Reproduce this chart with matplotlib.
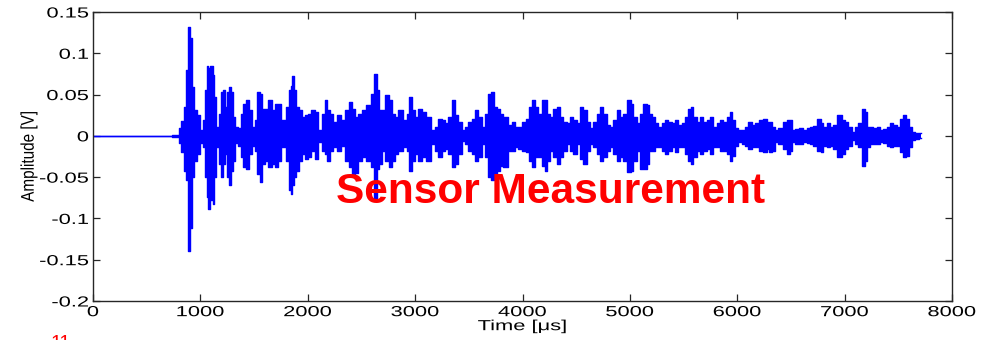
import matplotlib
matplotlib.use("Agg")
import matplotlib.pyplot as plt
from matplotlib.patheffects import AbstractPathEffect
from matplotlib.transforms import Affine2D

time_us = [0, 720, 745, 775, 800,
           810, 835, 857, 879, 894, 910, 928, 950, 981, 1012, 1028, 1052, 1068, 1083, 1105,
           1121, 1136, 1158, 1183, 1199, 1214, 1239, 1261, 1276, 1292, 1313, 1338, 1363, 1385,
           1406, 1437, 1469, 1493, 1518, 1540, 1562, 1586, 1617, 1649, 1679, 1711, 1735, 1772,
           1819, 1835, 1850, 1860, 1881, 1903, 1928, 1959, 1984, 2015, 2052, 2077, 2114, 2145,
           2170, 2192, 2223, 2254, 2294, 2332, 2369, 2394, 2425, 2450, 2487, 2518, 2565, 2605,
           2636, 2657, 2679, 2704, 2741, 2766, 2797, 2828, 2859, 2906, 2937, 2952, 2983, 3014,
           3045, 3077, 3123, 3170, 3201, 3232, 3263, 3294, 3325, 3356, 3387, 3418, 3449, 3480,
           3511, 3542, 3573, 3604, 3635, 3666, 3697, 3722, 3744, 3775, 3806, 3837, 3884, 3915,
           3946, 3977, 4008, 4055, 4070, 4101, 4132, 4163, 4194, 4219, 4241, 4272, 4303, 4334,
           4365, 4396, 4427, 4458, 4489, 4520, 4551, 4582, 4613, 4644, 4675, 4706, 4737, 4768,
           4799, 4830, 4861, 4892, 4923, 4954, 4995, 5017, 5048, 5079, 5110, 5141, 5172, 5188,
           5219, 5250, 5281, 5312, 5343, 5374, 5405, 5436, 5467, 5498, 5529, 5560, 5576, 5607,
           5638, 5669, 5700, 5731, 5762, 5793, 5824, 5855, 5886, 5917, 5942, 5964, 5995, 6026,
           6057, 6088, 6119, 6150, 6181, 6228, 6259, 6290, 6305, 6336, 6367, 6398, 6445, 6476,
           6498, 6523, 6554, 6600, 6631, 6662, 6693, 6724, 6765, 6786, 6817, 6848, 6879, 6910,
           6957, 6988, 7019, 7050, 7081, 7112, 7143, 7181, 7199, 7221, 7252, 7283, 7314, 7345,
           7376, 7407, 7438, 7469, 7500, 7531, 7562, 7584, 7609, 7640, 7671, 7708]

upper_v = [0, 0, 0.0015, 0.001, 0.0005,
           0.009, 0.018, 0.035, 0.080, 0.132, 0.118, 0.059, 0.031, 0.025, 0.007, 0.019, 0.055, 0.084, 0.082, 0.084,
           0.074, 0.047, 0.011, 0.027, 0.053, 0.055, 0.035, 0.053, 0.059, 0.053, 0.023, 0.011, 0.009, 0.027,
           0.039, 0.043, 0.031, 0.011, 0.019, 0.053, 0.051, 0.033, 0.033, 0.043, 0.031, 0.039, 0.039, 0.019,
           0.035, 0.055, 0.060, 0.072, 0.055, 0.035, 0.031, 0.023, 0.025, 0.027, 0.031, 0.029, 0.007, 0.027,
           0.043, 0.031, 0.027, 0.017, 0.025, 0.019, 0.031, 0.041, 0.033, 0.023, 0.027, 0.031, 0.037, 0.051,
           0.075, 0.055, 0.031, 0.031, 0.049, 0.043, 0.027, 0.023, 0.031, 0.019, 0.027, 0.047, 0.031, 0.023,
           0.033, 0.029, 0.023, 0.007, 0.011, 0.021, 0.019, 0.015, 0.023, 0.043, 0.025, 0.017, 0.007, 0.011,
           0.017, 0.021, 0.031, 0.023, 0.011, 0.027, 0.051, 0.053, 0.035, 0.033, 0.027, 0.023, 0.013, 0.017,
           0.011, 0.011, 0.017, 0.021, 0.035, 0.043, 0.035, 0.027, 0.043, 0.044, 0.027, 0.023, 0.033, 0.035,
           0.023, 0.017, 0.015, 0.023, 0.019, 0.015, 0.035, 0.031, 0.017, 0.009, 0.017, 0.027, 0.035, 0.027,
           0.013, 0.011, 0.019, 0.031, 0.023, 0.027, 0.043, 0.039, 0.023, 0.015, 0.027, 0.038, 0.037, 0.027,
           0.023, 0.015, 0.011, 0.015, 0.019, 0.017, 0.015, 0.019, 0.013, 0.015, 0.023, 0.033, 0.035, 0.023,
           0.017, 0.023, 0.017, 0.019, 0.023, 0.011, 0.015, 0.019, 0.017, 0.023, 0.029, 0.019, 0.009, 0.007,
           0.007, 0.011, 0.017, 0.013, 0.015, 0.019, 0.021, 0.017, 0.017, 0.011, 0.007, 0.009, 0.017, 0.019,
           0.019, 0.007, 0.008, 0.009, 0.007, 0.009, 0.011, 0.012, 0.020, 0.015, 0.011, 0.015, 0.011, 0.013,
           0.025, 0.019, 0.017, 0.011, 0.005, 0.011, 0.015, 0.032, 0.029, 0.011, 0.011, 0.009, 0.011, 0.007,
           0.008, 0.011, 0.015, 0.013, 0.011, 0.021, 0.025, 0.021, 0.011, 0.005, 0.004, 0.003]

lower_v = [0, 0, -0.0015, -0.001, -0.0005,
           -0.009, -0.020, -0.042, -0.054, -0.139, -0.111, -0.050, -0.030, -0.022, -0.009, -0.014, -0.050, -0.074, -0.088, -0.078,
           -0.082, -0.050, -0.014, -0.034, -0.050, -0.034, -0.022, -0.050, -0.060, -0.042, -0.030, -0.009, -0.012, -0.026,
           -0.038, -0.040, -0.022, -0.012, -0.018, -0.046, -0.056, -0.034, -0.030, -0.038, -0.034, -0.038, -0.030, -0.014,
           -0.030, -0.066, -0.070, -0.060, -0.050, -0.042, -0.030, -0.022, -0.028, -0.026, -0.018, -0.028, -0.007, -0.018,
           -0.022, -0.030, -0.018, -0.014, -0.018, -0.012, -0.030, -0.038, -0.046, -0.045, -0.030, -0.026, -0.030, -0.038,
           -0.075, -0.040, -0.034, -0.018, -0.030, -0.038, -0.030, -0.022, -0.018, -0.014, -0.018, -0.042, -0.030, -0.022,
           -0.030, -0.026, -0.030, -0.010, -0.018, -0.026, -0.018, -0.016, -0.022, -0.038, -0.034, -0.022, -0.006, -0.010,
           -0.018, -0.022, -0.030, -0.026, -0.010, -0.026, -0.050, -0.054, -0.046, -0.042, -0.036, -0.038, -0.018, -0.018,
           -0.014, -0.016, -0.018, -0.020, -0.030, -0.038, -0.026, -0.026, -0.036, -0.042, -0.030, -0.018, -0.026, -0.034,
           -0.026, -0.018, -0.010, -0.018, -0.022, -0.010, -0.028, -0.034, -0.018, -0.010, -0.014, -0.022, -0.030, -0.026,
           -0.018, -0.014, -0.022, -0.030, -0.026, -0.030, -0.044, -0.042, -0.030, -0.018, -0.040, -0.040, -0.034, -0.018,
           -0.018, -0.014, -0.014, -0.018, -0.022, -0.018, -0.014, -0.020, -0.014, -0.014, -0.022, -0.030, -0.034, -0.026,
           -0.018, -0.022, -0.018, -0.016, -0.022, -0.014, -0.014, -0.018, -0.018, -0.022, -0.030, -0.024, -0.012, -0.007,
           -0.010, -0.012, -0.016, -0.014, -0.014, -0.018, -0.020, -0.016, -0.020, -0.018, -0.007, -0.010, -0.016, -0.022,
           -0.018, -0.007, -0.010, -0.010, -0.007, -0.009, -0.010, -0.012, -0.018, -0.020, -0.012, -0.014, -0.012, -0.016,
           -0.026, -0.022, -0.016, -0.012, -0.005, -0.010, -0.014, -0.036, -0.030, -0.014, -0.010, -0.010, -0.010, -0.007,
           -0.009, -0.012, -0.014, -0.012, -0.012, -0.020, -0.026, -0.024, -0.014, -0.005, -0.004, -0.003]

x_ticks = [0, 1000, 2000, 3000, 4000, 5000, 6000, 7000, 8000]
y_ticks = [-0.2, -0.15, -0.1, -0.05, 0, 0.05, 0.1, 0.15]
y_tick_labels = ["-0.2", "-0.15", "-0.1", "-0.05", "0", "0.05", "0.1", "0.15"]


class Stretch(AbstractPathEffect):
    """Horizontally widen a text path around an anchor (mimics the wide MATLAB lettering)."""

    def __init__(self, sx, anchor="center"):
        super().__init__()
        self.sx = sx
        self.anchor = anchor

    def draw_path(self, renderer, gc, tpath, affine, rgbFace=None):
        ext = tpath.get_extents(affine)
        if self.anchor == "right":
            cx = ext.x1
        elif self.anchor == "left":
            cx = ext.x0
        else:
            cx = 0.5 * (ext.x0 + ext.x1)
        tr = affine + Affine2D().translate(-cx, 0).scale(self.sx, 1.0).translate(cx, 0)
        renderer.draw_path(gc, tpath, tr, rgbFace)


plt.rcParams["font.family"] = ["Liberation Sans", "DejaVu Sans"]

fig = plt.figure(figsize=(9.81, 3.40), dpi=100)
ax = fig.add_axes([93 / 981, 39 / 340, 859 / 981, 289 / 340])

blue = (0, 0, 1)
ax.fill_between(time_us, lower_v, upper_v, color=blue, linewidth=0, step="mid")
ax.plot(time_us, upper_v, color=blue, linewidth=1.0, drawstyle="steps-mid")
ax.plot(time_us, lower_v, color=blue, linewidth=1.0, drawstyle="steps-mid")

ax.set_xlim(0, 8000)
ax.set_ylim(-0.2, 0.15)
ax.set_xticks(x_ticks)
ax.set_xticklabels([str(v) for v in x_ticks])
ax.set_yticks(y_ticks)
ax.set_yticklabels(y_tick_labels)

ax.tick_params(direction="in", length=5, width=0.9, top=True, right=True,
               labelsize=10.5, colors="#262626", pad=3)
for sp in ax.spines.values():
    sp.set_linewidth(1.0)
    sp.set_color("#262626")

for lab in ax.get_xticklabels():
    lab.set_path_effects([Stretch(1.5, "center")])
    lab.set_color("black")
for lab in ax.get_yticklabels():
    lab.set_path_effects([Stretch(1.5, "right")])
    lab.set_color("black")

xl = ax.set_xlabel("Time [μs]", fontsize=10.5, labelpad=0)
xl.set_path_effects([Stretch(1.5, "center")])
yl = ax.set_ylabel("Amplitude [V]", fontsize=11, labelpad=14)
yl.set_path_effects([Stretch(1.2, "center")])

ax.text(0.533, 0.339, "Sensor Measurement", transform=ax.transAxes, ha="center",
        va="baseline", color=(1, 0, 0), fontsize=30.5, fontweight="bold")

fig.text(50 / 981, 1 - 335 / 340, "11", color=(1, 0, 0), fontsize=14,
         ha="left", va="top")

fig.savefig("out.png", dpi=100)
